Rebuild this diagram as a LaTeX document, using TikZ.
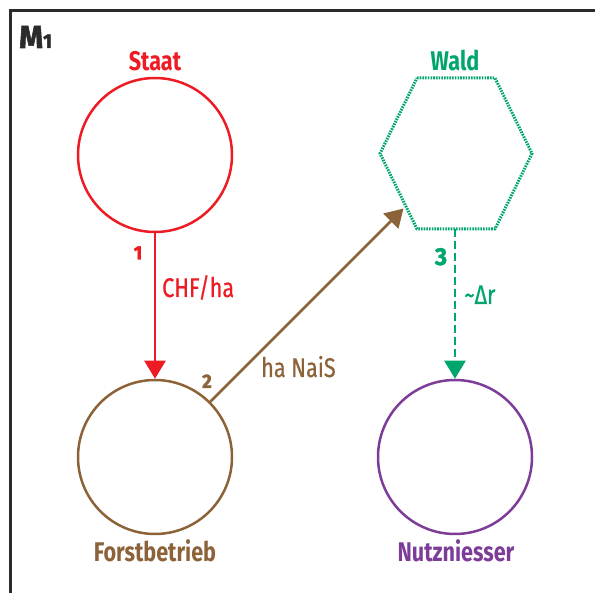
\documentclass[tikz,border=0pt]{standalone}
\usepackage{fontspec}
\setmainfont{Fira Sans}
\newfontfamily\condfont[FakeStretch=0.8]{Fira Sans}
\newfontfamily\flowfont[FakeStretch=0.8,FakeBold=0.6]{Fira Sans}
\newfontfamily\numfont[FakeStretch=0.95,BoldFeatures={FakeBold=2}]{Fira Sans}
\newfontfamily\headfont[FakeStretch=0.95,BoldFeatures={FakeBold=1.8}]{Fira Sans}
\usetikzlibrary{arrows.meta}
\definecolor{staatred}{HTML}{ED1C24}
\definecolor{forstbrown}{HTML}{8C6239}
\definecolor{waldgreen}{HTML}{00A66B}
\definecolor{nutzpurple}{HTML}{7D3C98}
\definecolor{framegray}{HTML}{2B2B2B}
\tikzset{
  partytitle/.style={font=\condfont\bfseries\fontsize{27}{30}\selectfont, anchor=base, inner sep=0pt},
  flowtext/.style={font=\flowfont\fontsize{27}{30}\selectfont, anchor=base west, inner sep=0pt},
  stepnum/.style={font=\numfont\bfseries\fontsize{19.5}{21}\selectfont, anchor=base, inner sep=0pt},
  party/.style={circle, draw, line width=2.5pt, minimum size=154pt, inner sep=0pt},
  flow/.style={line width=2.5pt, -{Triangle[length=18pt,width=21pt]}},
}
\begin{document}
\begin{tikzpicture}[x=1pt,y=-1pt]
  \useasboundingbox (0,0) rectangle (595,593);
  % frame (top and left edges)
  \draw[framegray, line width=3pt] (10.5,600) -- (10.5,10.5) -- (600,10.5);
  \node[font=\headfont\bfseries\fontsize{32}{34}\selectfont, anchor=base west, inner sep=0pt, text=framegray] (title) at (19,48)
    {M\fontsize{20}{22}\selectfont 1};

  % actors
  \node[party, draw=staatred] (staat) at (155,155) {};
  \node[party, draw=forstbrown] (forst) at (155,457) {};
  \node[party, draw=nutzpurple] (nutz) at (455,457) {};
  % forest hexagon
  \draw[waldgreen, line width=3pt, dash pattern=on 1.6pt off 1.1pt]
    (417,78) -- (495,78) -- (532,153.5) -- (495,229) -- (417,229) -- (380,153.5) -- cycle;
  \coordinate (waldbot) at (455,229);
  \coordinate (waldedge) at (403.5,208.5);

  % names
  \node[partytitle, text=staatred] (staatname) at (155,71) {Staat};
  \node[partytitle, text=waldgreen] (waldname) at (455,71) {Wald};
  \node[partytitle, text=forstbrown] (forstname) at (155,562) {Forstbetrieb};
  \node[partytitle, text=nutzpurple] (nutzname) at (456,562) {Nutzniesser};

  % flows
  \draw[flow, staatred] (staat) -- (forst);
  \draw[flow, forstbrown] (forst.45) -- (waldedge);
  \draw[flow, waldgreen, dash pattern=on 8pt off 4pt] (waldbot) -- (nutz);

  % flow labels
  \node[stepnum, text=staatred] (n1) at (138,259.5) {1};
  \node[flowtext, text=staatred] (t1) at (162,297) {CHF/ha};
  \node[stepnum, text=forstbrown] (n2) at (207,388) {2};
  \node[flowtext, text=forstbrown] (t2) at (261,377) {ha NaiS};
  \node[stepnum, text=waldgreen, font=\numfont\bfseries\fontsize{24.5}{26}\selectfont] (n3) at (441,265) {3};
  \node[flowtext, text=waldgreen] (t3) at (464,304) {\char"007E\char"0394r};
\end{tikzpicture}
\end{document}
